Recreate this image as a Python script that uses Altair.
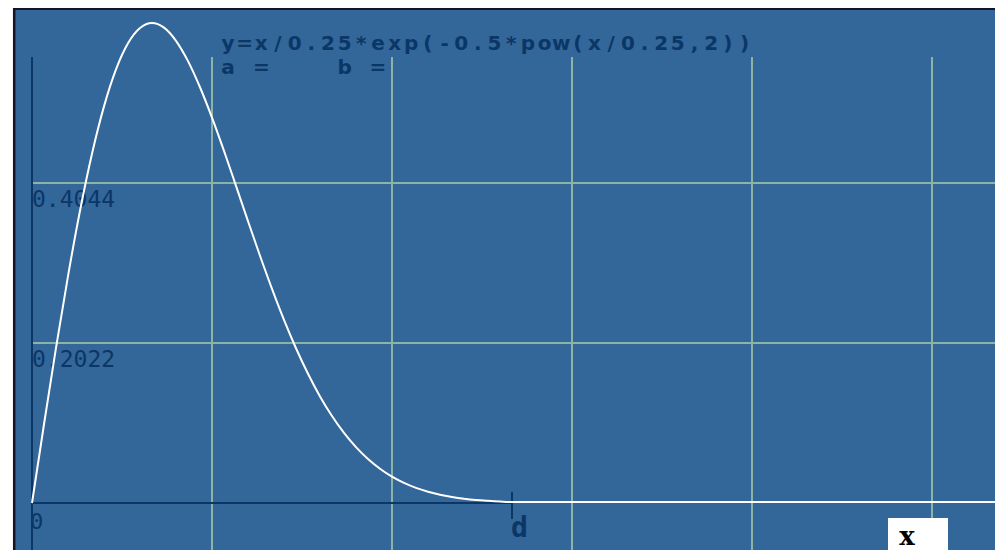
import altair as alt
import pandas as pd

# ---- data ----
CURVE_X = [0.0, 0.025, 0.05, 0.075, 0.1, 0.125, 0.15, 0.175, 0.2, 0.225, 0.25,
           0.275, 0.3, 0.325, 0.35, 0.375, 0.4, 0.425, 0.45, 0.475, 0.5,
           0.525, 0.55, 0.575, 0.6, 0.625, 0.65, 0.675, 0.7, 0.725, 0.75,
           0.775, 0.8, 0.825, 0.85, 0.875, 0.9, 0.925, 0.95, 0.975, 1.0, 2.01]
CURVE_Y = [0.0, 0.0995, 0.1960, 0.2868, 0.3693, 0.4413, 0.5012, 0.5479, 0.5809, 0.6003, 0.6065,
           0.6007, 0.5841, 0.5584, 0.5254, 0.4870, 0.4449, 0.4008, 0.3562, 0.3125, 0.2707,
           0.2315, 0.1956, 0.1633, 0.1347, 0.1099, 0.0885, 0.0706, 0.0556, 0.0433, 0.0333,
           0.0254, 0.0191, 0.0143, 0.0105, 0.0077, 0.0055, 0.0039, 0.0028, 0.0019, 0.0013, 0.0013]
GRID_X = [0.375, 0.75, 1.125, 1.5, 1.875]
GRID_Y = [0.2022, 0.4044]
Y_LABELS = ["0.2022", "0.4044"]
X_START = 0.0
X_END = 1.0
X_START_LABEL = "0"
X_END_LABEL = "d"
TITLE_LINES = ["y=x/0.25*exp(-0.5*pow(x/0.25,2))", "a =    b ="]
VAR_LABEL = "x"

# ---- styles ----
BLUE = "#336699"
GRID = "#8db3a3"
DARK = "#0b3767"
BORDER = "#141425"
MONO = "DejaVu Sans Mono"
W, H = 987, 542

xs = alt.Scale(domain=[-0.05, 2.00625], nice=False, zero=False)
ys = alt.Scale(domain=[-0.0594, 0.62555], nice=False, zero=False)

curve_df = pd.DataFrame({"x": CURVE_X, "y": CURVE_Y})
gx_df = pd.DataFrame({"x": GRID_X})
gy_df = pd.DataFrame({"y": GRID_Y, "label": Y_LABELS})
axis_df = pd.DataFrame({"x0": [X_START], "x1": [X_END], "y": [0.0]})
end_df = pd.DataFrame({"x": [X_START, X_END], "y": [0.0, 0.0], "label": [X_START_LABEL, X_END_LABEL]})

rows = []
for li, line in enumerate(TITLE_LINES):
    for ci, ch in enumerate(line):
        if ch != " ":
            rows.append({"ch": ch, "i": ci, "line": li})
title_df = pd.DataFrame(rows)

base_one = pd.DataFrame({"k": [0]})

panel = alt.Chart(base_one).mark_rect(fill=BLUE).encode(
    x=alt.value(6), x2=alt.value(W), y=alt.value(0), y2=alt.value(H))

border_top = alt.Chart(base_one).mark_rule(color=BORDER, strokeWidth=2.5).encode(
    x=alt.value(5), x2=alt.value(W), y=alt.value(0.8))
border_left = alt.Chart(base_one).mark_rule(color=BORDER, strokeWidth=2.5).encode(
    x=alt.value(6.2), y=alt.value(0), y2=alt.value(H))

vgrid = alt.Chart(gx_df).mark_rule(color=GRID, strokeWidth=2).encode(
    x=alt.X("x:Q", scale=xs, axis=None), y=alt.value(49), y2=alt.value(H))

hgrid = alt.Chart(gy_df).mark_rule(color=GRID, strokeWidth=2).encode(
    y=alt.Y("y:Q", scale=ys, axis=None), x=alt.value(24), x2=alt.value(W))

ylabels = alt.Chart(gy_df).mark_text(font=MONO, fontSize=23, color=DARK, align="left",
                                     baseline="top", dy=6).encode(
    x=alt.value(24), y=alt.Y("y:Q", scale=ys, axis=None), text="label:N")

yaxis = alt.Chart(axis_df).mark_rule(color=DARK, strokeWidth=2).encode(
    x=alt.X("x0:Q", scale=xs, axis=None), y=alt.value(49), y2=alt.value(H))

xaxis = alt.Chart(axis_df).mark_rule(color=DARK, strokeWidth=2).encode(
    x=alt.X("x0:Q", scale=xs, axis=None), x2="x1:Q", y=alt.Y("y:Q", scale=ys, axis=None))

xtick = alt.Chart(axis_df).mark_rule(color=DARK, strokeWidth=2).encode(
    x=alt.X("x1:Q", scale=xs, axis=None), y=alt.value(484), y2=alt.value(511))

curve = alt.Chart(curve_df).mark_line(color="white", strokeWidth=2, interpolate="monotone").encode(
    x=alt.X("x:Q", scale=xs, axis=None), y=alt.Y("y:Q", scale=ys, axis=None))

zero_lbl = alt.Chart(end_df).transform_filter("datum.x == 0").mark_text(
    font=MONO, fontSize=22, color=DARK, align="left", baseline="top", dx=-2, dy=9).encode(
    x=alt.X("x:Q", scale=xs, axis=None), y=alt.Y("y:Q", scale=ys, axis=None), text="label:N")

d_lbl = alt.Chart(end_df).transform_filter("datum.x > 0").mark_text(
    font=MONO, fontSize=28, fontWeight="bold", color=DARK, align="left", baseline="alphabetic",
    dx=-1, dy=34).encode(
    x=alt.X("x:Q", scale=xs, axis=None), y=alt.Y("y:Q", scale=ys, axis=None), text="label:N")

box = alt.Chart(base_one).mark_rect(fill="white").encode(
    x=alt.value(880), x2=alt.value(940), y=alt.value(510), y2=alt.value(H))

var_lbl = alt.Chart(pd.DataFrame({"t": [VAR_LABEL]})).mark_text(
    font="DejaVu Serif", fontSize=26, fontWeight="bold", color="black", align="center",
    baseline="alphabetic").encode(x=alt.value(899), y=alt.value(537), text="t:N")

main = alt.layer(panel, border_top, border_left, hgrid, vgrid, ylabels, yaxis, xaxis, xtick,
                 zero_lbl, curve, d_lbl, box, var_lbl)

title = alt.Chart(title_df).transform_calculate(
    px="220 + datum.i * 16.66", py="42 + datum.line * 24").mark_text(
    font="DejaVu Sans", fontSize=20, fontWeight="bold", color=DARK, align="center",
    baseline="alphabetic").encode(
    x=alt.X("px:Q", scale=None, axis=None), y=alt.Y("py:Q", scale=None, axis=None), text="ch:N")

chart = alt.layer(main, title).resolve_scale(x="independent", y="independent").properties(
    width=W, height=H, padding=0, autosize=alt.AutoSizeParams(type="none"),
    background="white").configure_view(stroke=None)

chart.save("out.html", embed_options={"renderer": "svg", "actions": False})
